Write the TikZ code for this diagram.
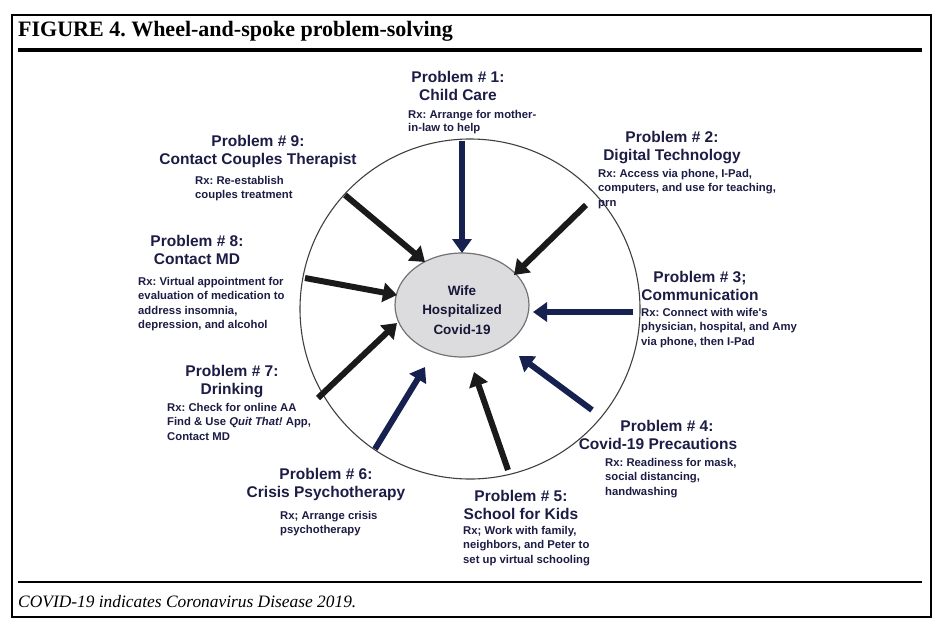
\documentclass[tikz,border=0pt]{standalone}
\usepackage{fontspec}
\setmainfont{Liberation Serif}
\newfontfamily\lab{Liberation Sans}
\usetikzlibrary{arrows.meta,shapes.geometric}
\definecolor{navy}{HTML}{17214F}
\definecolor{ink}{HTML}{1C1C45}
\definecolor{blk}{HTML}{1A1A1A}
\definecolor{hubfill}{HTML}{DCDCDE}
\frenchspacing
\begin{document}
\begin{tikzpicture}[x=1pt,y=-1pt,
  ttl/.style={font=\lab\bfseries\fontsize{15.5}{18.5}\selectfont, text=ink, align=center, inner sep=0pt, anchor=north},
  rx/.style={font=\lab\bfseries\fontsize{11.3}{14.4}\selectfont, text=ink, align=left, inner sep=0pt, anchor=north west},
  spoke/.style={line width=6pt, -{Triangle[length=14pt,width=19pt]}},
  rulethick/.style={line width=3.5pt, black},
]
\useasboundingbox (0,0) rectangle (939,635);
% frame
\node[draw, line width=2pt, minimum width=919pt, minimum height=602pt, inner sep=0pt, anchor=north west] (frame) at (11,14) {};
\node[font=\bfseries\fontsize{22}{24}\selectfont, anchor=west, inner sep=0pt] (title) at (18,31) {FIGURE 4. Wheel-and-spoke problem-solving};
\coordinate (tl) at (18,50); \coordinate (tr) at (922,50);
\draw[rulethick] (tl) -- (tr);
\coordinate (fl) at (18,582); \coordinate (fr) at (922,582);
\draw[line width=2.5pt] (fl) -- (fr);
\node[font=\itshape\fontsize{17.4}{20}\selectfont, anchor=west, inner sep=0pt] (foot) at (18,602) {COVID-19 indicates Coronavirus Disease 2019.};

% wheel
\node[circle, draw=black!75, line width=1.1pt, minimum size=340pt, inner sep=0pt] (wheel) at (470,309) {};
\node[ellipse, draw=black!55, line width=1.2pt, fill=hubfill, minimum width=134pt, minimum height=104pt, inner sep=0pt] (wife) at (462,305) {};
\node[font=\lab\bfseries\fontsize{13.5}{19.5}\selectfont, text=ink!80!black, align=center, inner sep=0pt] (wifetxt) at (462,310) {Wife\\Hospitalized\\Covid-19};

% spokes
\coordinate (s1) at (462,141); \coordinate (t1) at (462,253);
\coordinate (s2) at (586,205); \coordinate (t2) at (514,275);
\coordinate (s3) at (633,312); \coordinate (t3) at (533,312);
\coordinate (s4) at (592,410); \coordinate (t4) at (519,356);
\coordinate (s5) at (508,470); \coordinate (t5) at (474,372);
\coordinate (s6) at (375,449); \coordinate (t6) at (425,367);
\coordinate (s7) at (318,398); \coordinate (t7) at (397,323);
\coordinate (s8) at (305,278); \coordinate (t8) at (397,295);
\coordinate (s9) at (345,195); \coordinate (t9) at (425,262);
\draw[spoke, navy] (s1) -- (t1);
\draw[spoke, blk] (s2) -- (t2);
\draw[spoke, navy] (s3) -- (t3);
\draw[spoke, navy] (s4) -- (t4);
\draw[spoke, blk] (s5) -- (t5);
\draw[spoke, navy] (s6) -- (t6);
\draw[spoke, blk] (s7) -- (t7);
\draw[spoke, blk] (s8) -- (t8);
\draw[spoke, blk] (s9) -- (t9);

% labels
\node[ttl] (p1) at (458,71) {Problem \# 1:\\Child Care};
\node[rx, font=\lab\bfseries\fontsize{11.3}{13.5}\selectfont] (r1) at (408,110) {Rx: Arrange for mother-\\in-law to help};

\node[ttl] (p2) at (672,131) {Problem \# 2:\\Digital Technology};
\node[rx] (r2) at (598,169) {Rx: Access via phone, I-Pad,\\computers, and use for teaching,\\prn};

\node[ttl] (p3) at (700,271) {Problem \# 3;\\Communication};
\node[rx] (r3) at (641,308) {Rx: Connect with wife's\\physician, hospital, and Amy\\via phone, then I-Pad};

\node[ttl] (p4) at (658,420) {\hspace*{18pt}Problem \# 4:\\Covid-19 Precautions};
\node[rx] (r4) at (605,458) {Rx: Readiness for mask,\\social distancing,\\handwashing};

\node[ttl] (p5) at (521,490) {Problem \# 5:\\School for Kids};
\node[rx] (r5) at (463,526) {Rx; Work with family,\\neighbors, and Peter to\\set up virtual schooling};

\node[ttl] (p6) at (326,468) {Problem \# 6:\\Crisis Psychotherapy};
\node[rx] (r6) at (280,511) {Rx; Arrange crisis\\psychotherapy};

\node[ttl] (p7) at (232,365) {Problem \# 7:\\Drinking};
\node[rx] (r7) at (167,403) {Rx: Check for online AA\\Find \& Use {\itshape Quit That!} App,\\Contact MD};

\node[ttl] (p8) at (197,235) {Problem \# 8:\\Contact MD};
\node[rx] (r8) at (138,277) {Rx: Virtual appointment for\\evaluation of medication to\\address insomnia,\\depression, and alcohol};

\node[ttl] (p9) at (258,135) {Problem \# 9:\\Contact Couples Therapist};
\node[rx] (r9) at (195,176) {Rx: Re-establish\\couples treatment};
\end{tikzpicture}
\end{document}
